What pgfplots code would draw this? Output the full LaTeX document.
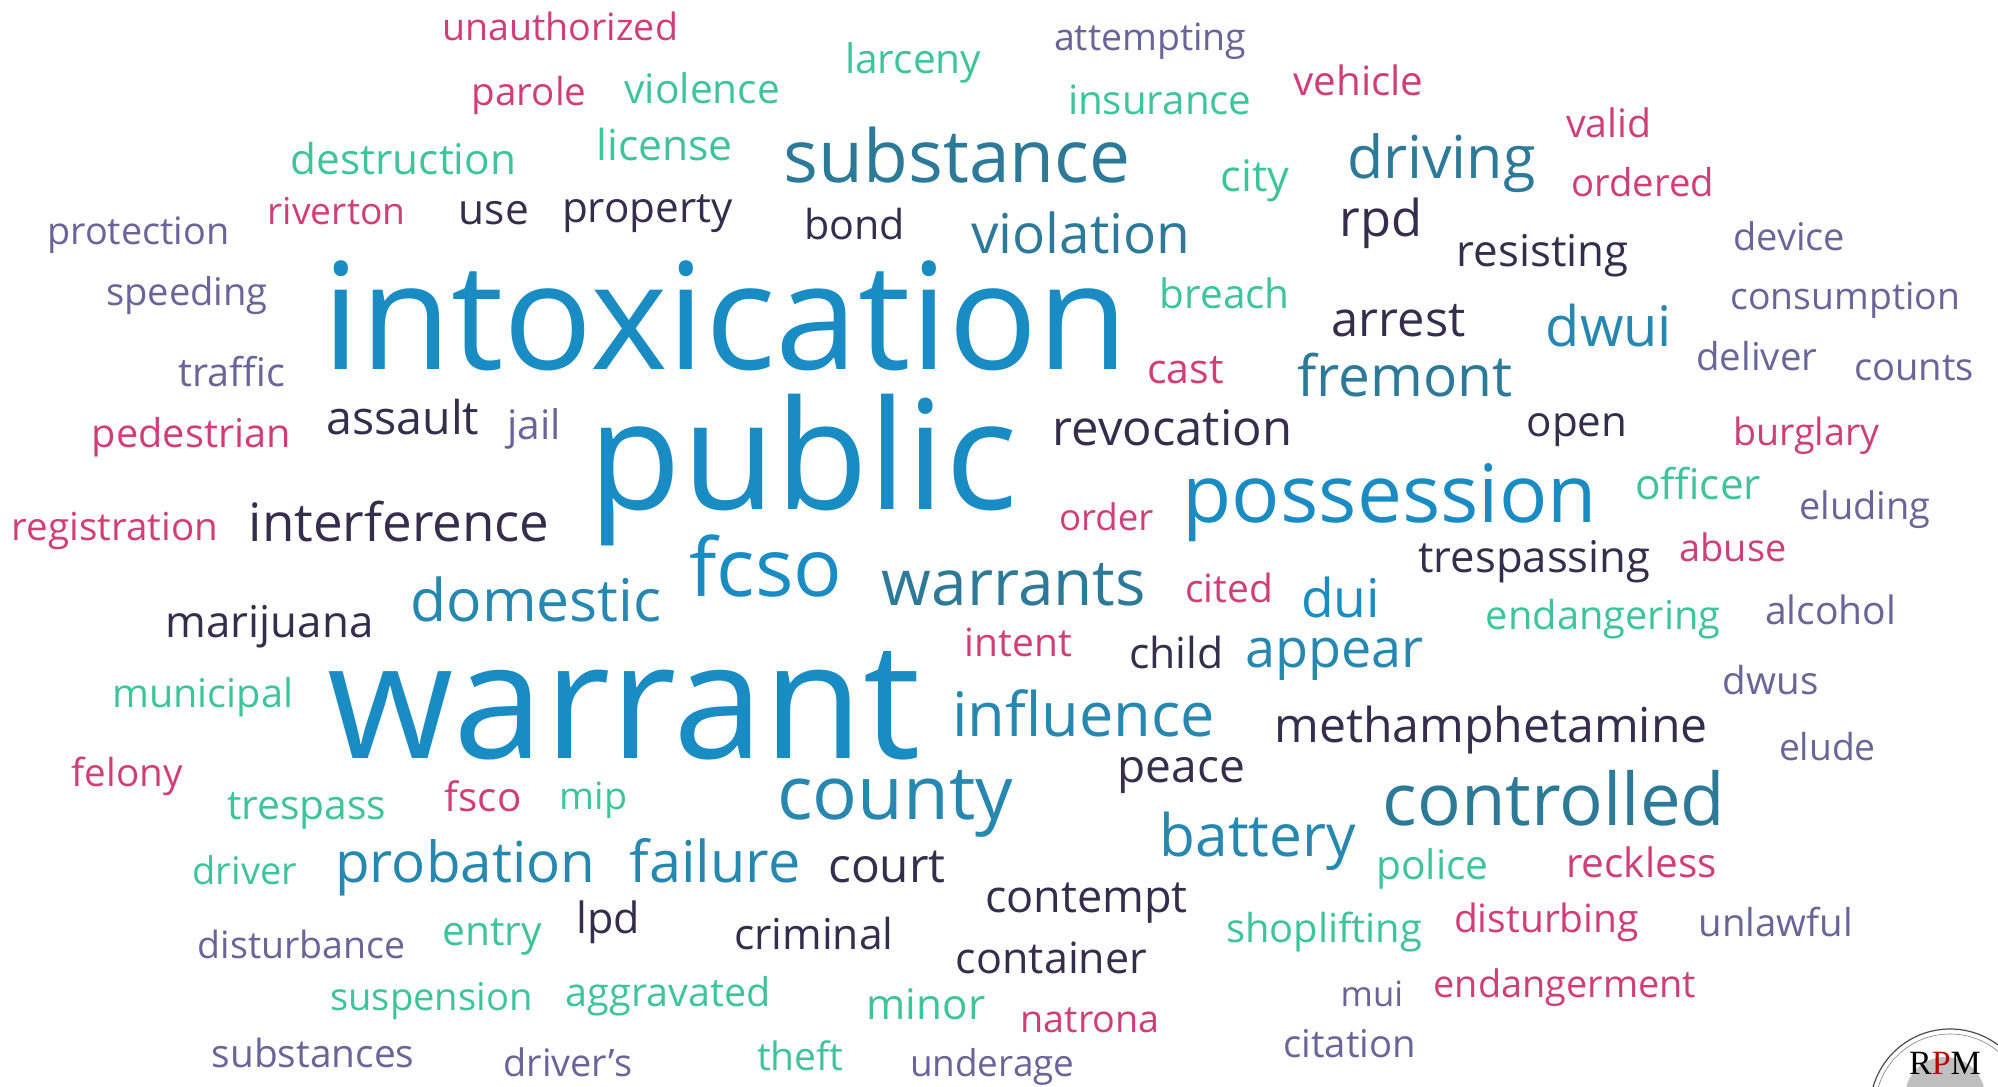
\documentclass[border=0pt]{standalone}
\usepackage{pgfplots}
\usepackage{pgfplotstable}
\usepackage{graphicx}
\usepackage{fontspec}
\setmainfont{Open Sans}
\newfontfamily\logofont{Liberation Serif}
\pgfplotsset{compat=1.18}
% 1 bright blue, 2 teal-blue, 3 blue, 4 dark, 5 pink, 6 mint, 7 lavender
\definecolor{wc1}{RGB}{25,140,195}
\definecolor{wc2}{RGB}{45,122,152}
\definecolor{wc3}{RGB}{38,136,176}
\definecolor{wc4}{RGB}{52,46,76}
\definecolor{wc5}{RGB}{208,62,122}
\definecolor{wc6}{RGB}{62,196,156}
\definecolor{wc7}{RGB}{106,100,152}
\pgfplotstableread{
x y w c label
442.1 1046.2 235.7 5 unauthorized
1053.8 1036.0 192.4 7 attempting
844.8 1013.1 136.3 6 larceny
471.5 981.2 114.7 5 parole
624.4 983.8 155.5 6 violence
1067.8 972.3 183.5 6 insurance
1293.3 991.4 130.0 5 vehicle
1566.0 949.4 85.4 5 valid
290.5 912.4 225.5 6 destruction
596.3 926.5 136.3 6 license
783.6 904.8 346.6 2 substance
1220.7 895.9 68.8 6 city
1346.8 908.6 188.6 2 driving
1571.1 890.8 142.7 5 ordered
47.1 842.4 182.2 7 protection
267.6 862.7 137.6 5 riverton
458.7 862.7 70.1 4 use
561.9 864.0 170.7 4 property
804.0 847.5 100.7 4 bond
970.9 833.4 219.2 2 violation
1339.2 850.0 82.8 4 rpd
1456.4 820.7 172.0 4 resisting
1732.9 836.0 112.1 7 device
105.8 781.2 161.8 7 speeding
322.4 717.5 805.3 1 intoxication
1159.5 778.6 130.0 6 breach
1331.5 750.6 133.8 4 arrest
1545.6 740.4 126.1 3 dwui
1730.4 777.4 229.4 7 consumption
178.4 700.9 107.0 7 traffic
1146.8 703.5 76.5 5 cast
1297.1 690.7 215.3 2 fremont
1696.0 716.2 121.0 7 deliver
1854.0 706.0 119.8 7 counts
91.7 639.8 198.8 5 pedestrian
326.2 652.5 152.9 4 assault
507.1 647.4 53.5 7 jail
588.7 577.3 428.1 1 public
1052.5 641.0 239.5 4 revocation
1526.5 650.0 100.7 4 open
1732.9 641.0 146.5 5 burglary
1182.5 564.6 414.1 1 possession
1634.8 587.5 126.1 6 officer
11.5 546.7 206.4 5 registration
248.5 545.5 300.7 4 interference
1058.9 556.9 94.3 5 order
1799.2 567.1 131.2 7 eluding
1418.2 514.9 231.9 4 trespassing
1679.4 525.1 107.0 5 abuse
689.3 490.7 152.9 1 fcso
881.7 481.8 263.8 2 warrants
410.3 465.2 251.0 3 domestic
1185.0 484.3 87.9 5 cited
1300.9 469.0 79.0 1 dui
165.6 449.9 207.7 4 marijuana
1485.7 457.5 234.5 6 endangering
1764.8 462.6 131.2 7 alcohol
964.6 430.8 107.0 5 intent
1128.9 418.0 94.3 4 child
1244.9 419.3 178.4 3 appear
327.5 328.9 592.5 1 warrant
112.1 379.8 180.9 6 municipal
1722.7 392.6 95.6 7 dwus
951.8 350.5 262.5 3 influence
1274.2 344.1 433.2 4 methamphetamine
1778.8 326.3 96.8 7 elude
71.4 300.8 110.9 5 felony
1117.5 304.6 127.4 4 peace
226.8 267.7 159.3 6 trespass
444.7 275.3 76.5 5 fsco
559.4 277.9 67.5 6 mip
777.3 267.7 235.7 3 county
1382.5 261.3 342.8 2 controlled
1159.5 230.7 196.2 3 battery
192.4 202.7 104.5 6 driver
335.1 204.0 259.9 3 probation
629.5 204.0 170.7 3 failure
828.2 204.0 117.2 4 court
1376.1 207.8 112.1 6 police
1566.0 209.1 150.4 5 reckless
985.0 174.7 202.6 4 contempt
197.5 128.8 207.7 7 disturbance
442.1 141.5 99.4 6 entry
575.9 153.0 63.7 4 lpd
733.9 137.7 159.3 4 criminal
1225.8 144.1 196.2 6 shoplifting
1453.9 154.3 184.8 5 disturbing
1698.5 150.5 154.2 7 unlawful
955.7 113.5 191.1 4 container
330.0 76.6 202.6 6 suspension
565.7 80.4 205.1 6 aggravated
866.5 67.6 118.5 6 minor
1340.5 80.4 62.4 7 mui
1433.5 89.3 262.5 5 endangerment
1020.6 54.9 138.9 5 natrona
1283.1 29.4 132.5 7 citation
211.5 19.2 202.6 7 substances
503.3 10.3 128.7 7 driver's
756.9 16.7 86.6 6 theft
909.8 10.3 164.4 7 underage
}\words
\begin{document}
\begin{tikzpicture}
\useasboundingbox (0,0) rectangle (1998pt,1087pt);
\clip (0,0) rectangle (1998pt,1087pt);
\begin{axis}[at={(0,0)}, anchor=south west, x=1pt, y=1pt,
  xmin=0, xmax=1998, ymin=0, ymax=1087, hide axis, clip=false]
\addplot[draw=none, mark=none, point meta=explicit symbolic,
  visualization depends on={\thisrow{w}\as\wwid},
  visualization depends on={\thisrow{c}\as\wcol},
  nodes near coords={\pgfmathtruncatemacro\wci{\wcol}\color{wc\wci}\resizebox{\wwid pt}{!}{\pgfplotspointmeta}},
  nodes near coords align={anchor=base west},
  every node near coord/.append style={inner sep=0pt, anchor=base west}]
  table[x=x, y=y, meta=label]{\words};
\draw[black!70, line width=1.2pt] (axis cs:1950,-22) circle[radius=80pt];
\draw[black!50, line width=0.6pt] (axis cs:1950,-22) circle[radius=75pt];
\fill[black!25] (axis cs:1945,-10) circle[radius=40pt];
\node[anchor=base, inner sep=0pt, font=\logofont\fontsize{34}{34}\selectfont] at (axis cs:1945,12) {R{\color{red!75!black}P}M};
\end{axis}
\end{tikzpicture}
\end{document}
